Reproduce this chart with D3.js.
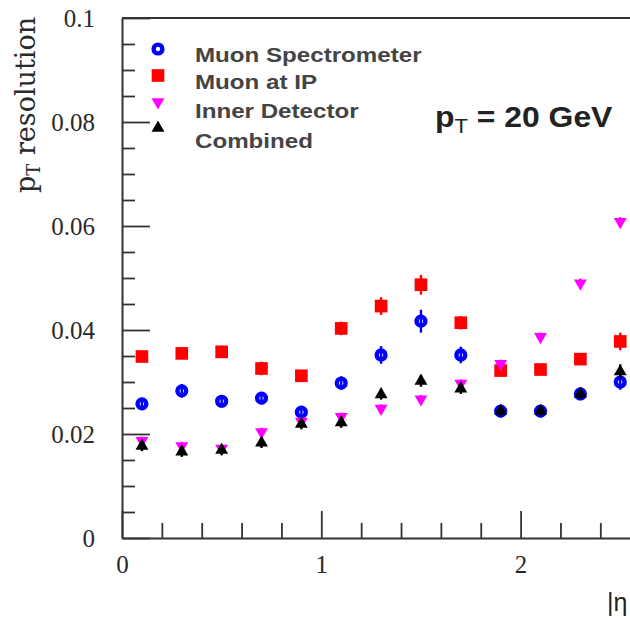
<!DOCTYPE html>
<html>
<head>
<meta charset="utf-8">
<script src="https://cdn.jsdelivr.net/npm/d3@7"></script>
<style>
  html, body { margin: 0; padding: 0; background: #fff; overflow: hidden; }
  svg { display: block; }
</style>
</head>
<body>
<svg id="chart" width="630" height="620"></svg>
<script>
// |eta| bin centres
const etaBins = [0.1, 0.3, 0.5, 0.7, 0.9, 1.1, 1.3, 1.5, 1.7, 1.9, 2.1, 2.3, 2.5];

// pT resolution at pT = 20 GeV, per detector configuration
const spectrometer    = [0.0258, 0.0283, 0.0263, 0.0269, 0.0242, 0.0298, 0.0352, 0.0417, 0.0352, 0.0244, 0.0244, 0.0277, 0.0300];
const spectrometerErr = [0.0012, 0.0013, 0.0012, 0.0012, 0.0012, 0.0013, 0.0017, 0.0022, 0.0016, 0.0012, 0.0012, 0.0012, 0.0015];
const muonAtIP        = [0.0349, 0.0355, 0.0358, 0.0326, 0.0312, 0.0403, 0.0446, 0.0487, 0.0414, 0.0322, 0.0324, 0.0344, 0.0378];
const muonAtIPErr     = [0.0011, 0.0011, 0.0012, 0.0013, 0.0010, 0.0013, 0.0017, 0.0019, 0.0013, 0.0011, 0.0011, 0.0011, 0.0017];
const innerDetector   = [0.0187, 0.0177, 0.0172, 0.0204, 0.0224, 0.0233, 0.0249, 0.0267, 0.0297, 0.0335, 0.0387, 0.0490, 0.0608];
const innerDetectorErr= [0.0008, 0.0008, 0.0008, 0.0008, 0.0008, 0.0008, 0.0008, 0.0008, 0.0008, 0.0008, 0.0008, 0.0009, 0.0009];
const combined        = [0.0177, 0.0166, 0.0169, 0.0183, 0.0219, 0.0222, 0.0276, 0.0302, 0.0287, 0.0244, 0.0244, 0.0277, 0.0320];
const combinedErr     = [0.0010, 0.0010, 0.0010, 0.0010, 0.0010, 0.0010, 0.0010, 0.0011, 0.0010, 0.0010, 0.0010, 0.0010, 0.0014];

// Axis ticks and labels
const yMajorTicks  = [0, 0.02, 0.04, 0.06, 0.08, 0.1];
const yTickLabels  = ["0", "0.02", "0.04", "0.06", "0.08", "0.1"];
const yMinorStep   = 0.005;
const xMajorTicks  = [0, 1, 2];
const xTickLabels  = ["0", "1", "2"];
const xMinorStep   = 0.2;

const seriesNames  = ["Muon Spectrometer", "Muon at IP", "Inner Detector", "Combined"];

const svg = d3.select("#chart");
const W = 630, H = 620;

const x = d3.scaleLinear().domain([0, 3]).range([122, 122 + 3 * 199.3]);
const y = d3.scaleLinear().domain([0, 0.1]).range([538, 18]);

const axisColor = "#333";
const serif = "'Liberation Serif', 'Times New Roman', serif";
const sans = "'Liberation Sans', Arial, Helvetica, sans-serif";

// frame line along the top
svg.append("line")
  .attr("x1", x(0)).attr("x2", W)
  .attr("y1", y(0.1)).attr("y2", y(0.1))
  .attr("stroke", axisColor).attr("stroke-width", 2);

// ---- y axis: minor ticks, then major ticks with labels
const yMinorValues = d3.range(0, 0.1 + 1e-9, yMinorStep).filter(v => !yMajorTicks.some(m => Math.abs(m - v) < 1e-9));
const yMinor = svg.append("g").attr("transform", `translate(${x(0)},0)`)
  .call(d3.axisLeft(y).tickValues(yMinorValues).tickSizeInner(-13).tickSizeOuter(0).tickFormat(""));
yMinor.select(".domain").remove();

const yMajor = svg.append("g").attr("transform", `translate(${x(0)},0)`)
  .call(d3.axisLeft(y).tickValues(yMajorTicks).tickSizeInner(-28).tickSizeOuter(0).tickPadding(27)
    .tickFormat((d, i) => yTickLabels[i]));
yMajor.select(".domain").attr("stroke", axisColor).attr("stroke-width", 2);

// ---- x axis: minor ticks, then major ticks with labels
const xMinorValues = d3.range(0, 3 + 1e-9, xMinorStep).filter(v => !xMajorTicks.some(m => Math.abs(m - v) < 1e-9) && Math.abs(v - 3) > 1e-9);
const xMinor = svg.append("g").attr("transform", `translate(0,${y(0)})`)
  .call(d3.axisBottom(x).tickValues(xMinorValues).tickSizeInner(-15).tickSizeOuter(0).tickFormat(""));
xMinor.select(".domain").remove();

const xMajor = svg.append("g").attr("transform", `translate(0,${y(0)})`)
  .call(d3.axisBottom(x).tickValues(xMajorTicks).tickSizeInner(-27).tickSizeOuter(0).tickPadding(17)
    .tickFormat((d, i) => xTickLabels[i]));
xMajor.select(".domain").attr("stroke", axisColor).attr("stroke-width", 2);

[yMinor, yMajor, xMinor, xMajor].forEach(g => {
  g.selectAll(".tick line").attr("stroke", axisColor).attr("stroke-width", 1.8);
  g.selectAll(".tick text")
    .attr("fill", "#2a2a2a")
    .style("font-family", serif)
    .style("font-size", "25px");
});

// axis titles
const yTitle = svg.append("text")
  .attr("transform", "translate(35,193) rotate(-90)")
  .attr("fill", "#2a2a2a")
  .style("font-family", "'DejaVu Serif', serif")
  .style("font-size", "27px");
yTitle.append("tspan").text("p");
yTitle.append("tspan").attr("dy", 5).style("font-size", "18px").text("T");
yTitle.append("tspan").attr("dy", -5).text(" resolution");

svg.append("text")
  .attr("x", 607).attr("y", 611)
  .attr("fill", "#222")
  .style("font-family", sans)
  .style("font-size", "25px")
  .text("|\u03B7");

// ---- data points
const series = [
  { name: seriesNames[0], values: spectrometer,  errs: spectrometerErr,  color: "#0000ff", kind: "circle" },
  { name: seriesNames[1], values: muonAtIP,      errs: muonAtIPErr,      color: "#ff0000", kind: "square" },
  { name: seriesNames[2], values: innerDetector, errs: innerDetectorErr, color: "#ff00ff", kind: "down" },
  { name: seriesNames[3], values: combined,      errs: combinedErr,      color: "#000000", kind: "up" }
];

function drawMarker(g, kind, color) {
  if (kind === "circle") {
    g.append("circle").attr("r", 4.4).attr("fill", "none").attr("stroke", color).attr("stroke-width", 4.4);
  } else if (kind === "square") {
    g.append("path").attr("d", d3.symbol(d3.symbolSquare, 160)()).attr("fill", color);
  } else if (kind === "up") {
    g.append("path").attr("d", d3.symbol(d3.symbolTriangle, 72)()).attr("fill", color);
  } else {
    g.append("path").attr("d", d3.symbol(d3.symbolTriangle, 72)()).attr("transform", "rotate(180)").attr("fill", color);
  }
}

const plot = svg.append("g");
series.forEach(s => {
  const g = plot.append("g");
  const pts = etaBins.map((e, i) => ({ eta: e, v: s.values[i], err: s.errs[i] }));
  g.selectAll("line.err").data(pts).join("line")
    .attr("class", "err")
    .attr("x1", d => x(d.eta)).attr("x2", d => x(d.eta))
    .attr("y1", d => y(d.v - d.err)).attr("y2", d => y(d.v + d.err))
    .attr("stroke", s.color).attr("stroke-width", 2.4);
  g.selectAll("g.pt").data(pts).join("g")
    .attr("class", "pt")
    .attr("transform", d => `translate(${x(d.eta)},${y(d.v)})`)
    .each(function () { drawMarker(d3.select(this), s.kind, s.color); });
});

// ---- legend
const legendMarkerY = [49, 75.5, 102, 128];
const legendTextY = [62, 89, 118, 148];
series.forEach((s, i) => {
  const g = svg.append("g").attr("transform", `translate(158,${legendMarkerY[i]})`);
  drawMarker(g, s.kind, s.color);
  svg.append("text")
    .attr("transform", `translate(195,${legendTextY[i]}) scale(1.15,1)`)
    .attr("fill", "#444")
    .style("font-family", sans)
    .style("font-weight", "bold")
    .style("font-size", "21px")
    .text(s.name);
});

// ---- annotation
const note = svg.append("text")
  .attr("transform", "translate(435,127) scale(1.1,1)")
  .attr("fill", "#222")
  .style("font-family", sans)
  .style("font-weight", "bold")
  .style("font-size", "29px");
note.append("tspan").text("p");
note.append("tspan").attr("dy", 6).style("font-size", "20px").style("font-weight", "normal").text("T");
note.append("tspan").attr("dy", -6).text(" = 20 GeV");
</script>
</body>
</html>
